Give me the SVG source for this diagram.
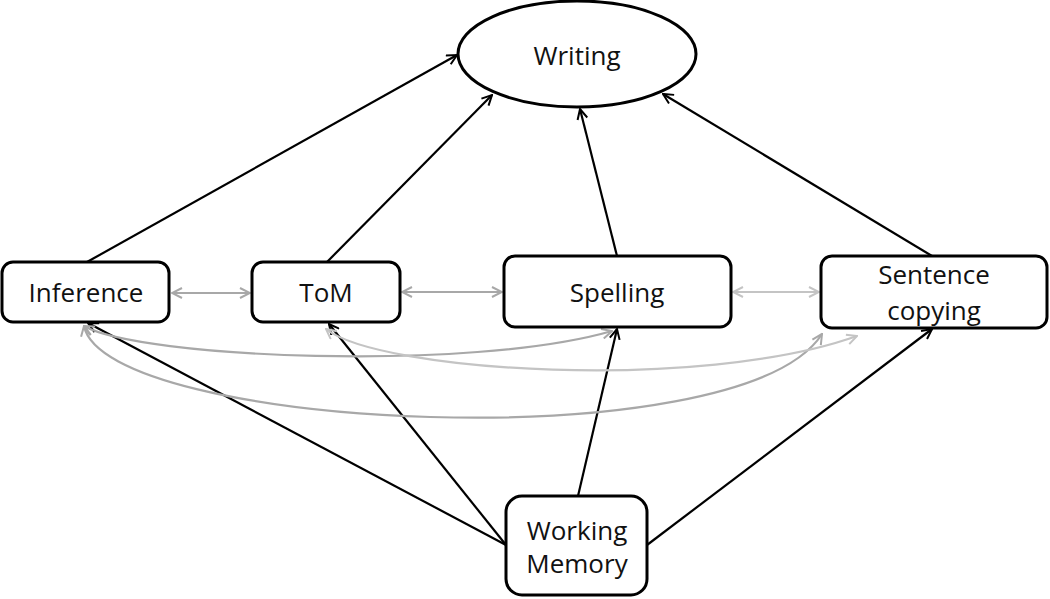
<svg xmlns="http://www.w3.org/2000/svg" width="1050" height="599" viewBox="0 0 1050 599">
<style>
.box{fill:#fff;stroke:#000;stroke-width:3}
.lbl{font-family:"Open Sans","Liberation Sans",sans-serif;font-size:26px;fill:#111;text-anchor:middle}
.blk{fill:none;stroke:#000;stroke-width:2.2;marker-end:url(#ab)}
.gry{fill:none;stroke:#a8a8a8;stroke-width:2.2;marker-start:url(#ag);marker-end:url(#ag)}
.gry2{fill:none;stroke:#c4c4c4;stroke-width:2.2;marker-start:url(#ag2);marker-end:url(#ag2)}
</style>
<defs>
<marker id="ab" viewBox="0 0 12 12" refX="11" refY="6" markerWidth="12" markerHeight="12" markerUnits="userSpaceOnUse" orient="auto-start-reverse">
<path d="M1,1 L11,6 L1,11" fill="none" stroke="#000" stroke-width="2"/>
</marker>
<marker id="ag" viewBox="0 0 12 12" refX="11" refY="6" markerWidth="12" markerHeight="12" markerUnits="userSpaceOnUse" orient="auto-start-reverse">
<path d="M1,1 L11,6 L1,11" fill="none" stroke="#a8a8a8" stroke-width="2"/>
</marker>
<marker id="ag2" viewBox="0 0 12 12" refX="11" refY="6" markerWidth="12" markerHeight="12" markerUnits="userSpaceOnUse" orient="auto-start-reverse">
<path d="M1,1 L11,6 L1,11" fill="none" stroke="#c4c4c4" stroke-width="2"/>
</marker>
</defs>
<rect width="1050" height="599" fill="#fff"/>
<g id="connectors">
<line class="blk" x1="87" y1="262" x2="457" y2="55"/>
<line class="blk" x1="327" y1="262" x2="492" y2="95"/>
<line class="blk" x1="617" y1="256" x2="580" y2="109"/>
<line class="blk" x1="932" y1="256" x2="663" y2="94"/>
<line class="blk" x1="506" y1="545" x2="88" y2="323"/>
<line class="blk" x1="506" y1="545" x2="329" y2="324"/>
<line class="blk" x1="578" y1="496" x2="617" y2="329"/>
<line class="blk" x1="647" y1="545" x2="932" y2="329"/>
<line class="gry" x1="172" y1="293" x2="250" y2="293"/>
<line class="gry" x1="402" y1="292" x2="502" y2="292"/>
<line class="gry2" x1="733" y1="292" x2="819" y2="292"/>
<path class="gry" d="M84,326 C140,358 470,372 612,331"/>
<path class="gry" d="M84,326 C105,430 740,462 822,334"/>
<path class="gry2" d="M326,329 C380,372 700,392 857,336"/>
</g>
<g id="writing">
<ellipse class="box" cx="577" cy="54" rx="119" ry="53" stroke-width="2.5"/>
<text class="lbl" x="577" y="65" font-size="29">Writing</text>
</g>
<g id="inference">
<rect class="box" x="2" y="262" width="167" height="60" rx="11"/>
<text class="lbl" x="86" y="302">Inference</text>
</g>
<g id="tom">
<rect class="box" x="252" y="262" width="148" height="60" rx="11"/>
<text class="lbl" x="326" y="302">ToM</text>
</g>
<g id="spelling">
<rect class="box" x="504" y="256" width="227" height="71" rx="11"/>
<text class="lbl" x="617" y="302">Spelling</text>
</g>
<g id="sentence">
<rect class="box" x="821" y="256" width="226" height="72" rx="11"/>
<text class="lbl" x="934" y="284">Sentence</text>
<text class="lbl" x="934" y="320">copying</text>
</g>
<g id="working-memory">
<rect class="box" x="506" y="496" width="141" height="99" rx="16"/>
<text class="lbl" x="577" y="540" font-size="28">Working</text>
<text class="lbl" x="577" y="573" font-size="28">Memory</text>
</g>
</svg>
